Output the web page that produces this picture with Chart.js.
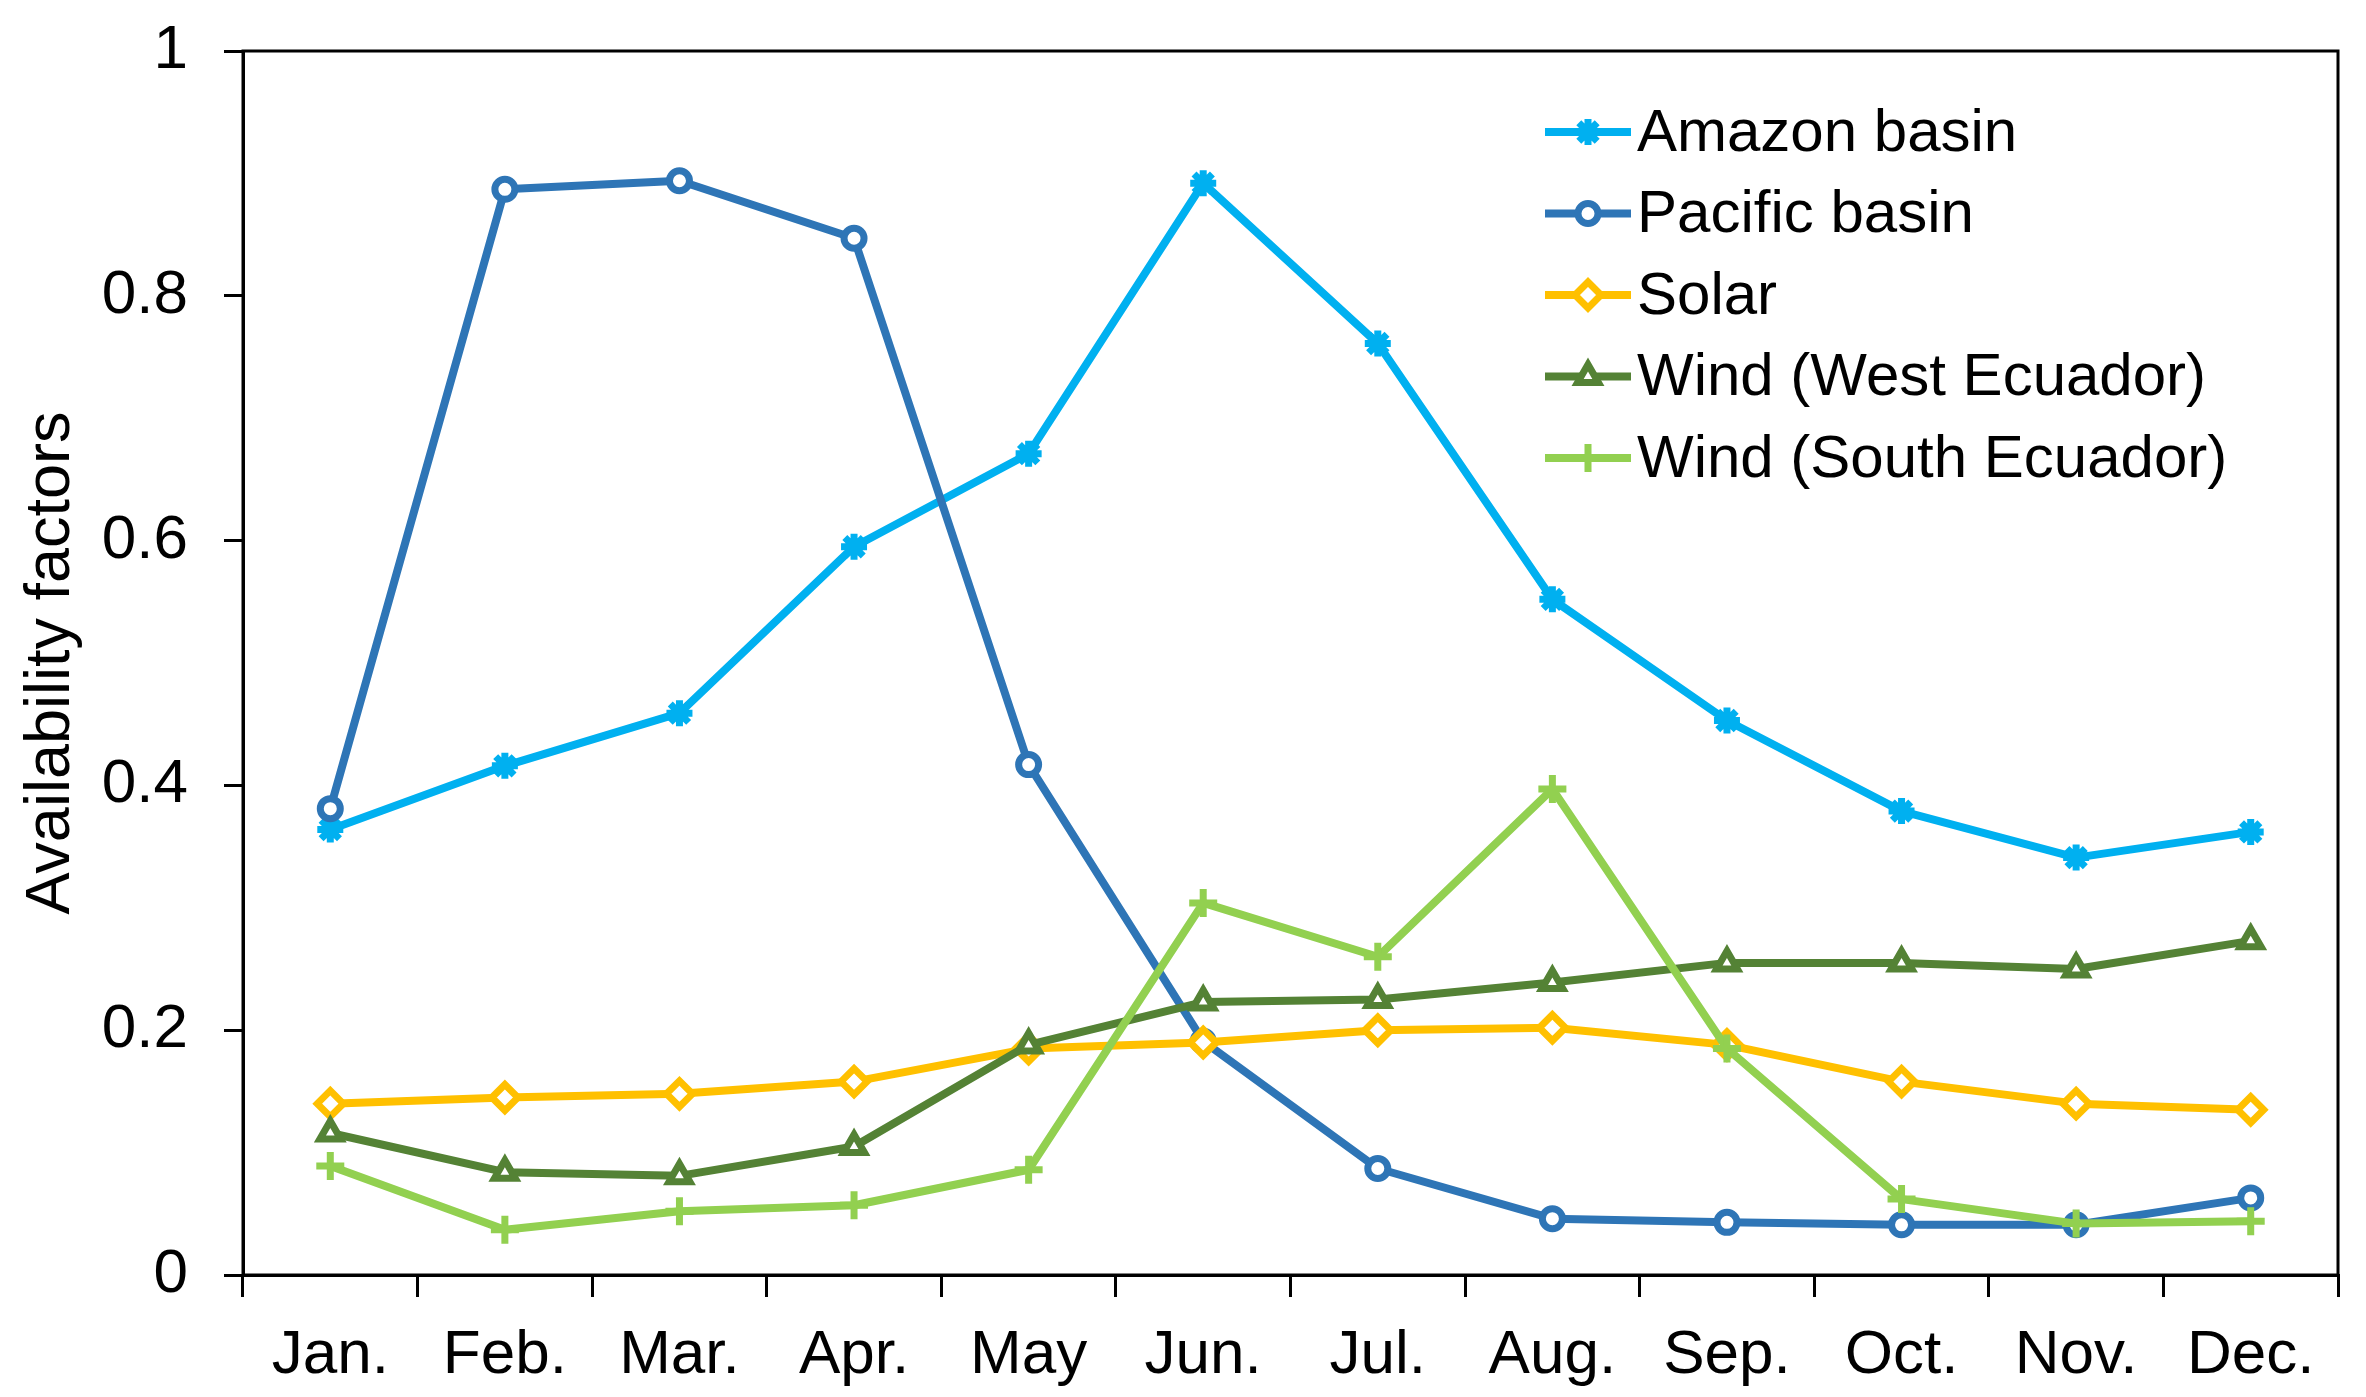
<!DOCTYPE html>
<html>
<head>
    <title>Availability factors</title>
    <script src="https://cdn.jsdelivr.net/npm/chart.js@4"></script>
    <style>
        body { margin: 0; background: #fff; }
        canvas { display: block; }
    </style>
</head>
<body>

<canvas id="grafico" width="2366" height="1397"></canvas>

<script>
    const meses = ['Jan.', 'Feb.', 'Mar.', 'Apr.', 'May', 'Jun.', 'Jul.', 'Aug.', 'Sep.', 'Oct.', 'Nov.', 'Dec.'];
    const yTicks = [0, 0.2, 0.4, 0.6, 0.8, 1];

    const amazon     = [0.364, 0.416, 0.459, 0.595, 0.671, 0.892, 0.761, 0.552, 0.453, 0.379, 0.341, 0.362];
    const pacific    = [0.381, 0.887, 0.894, 0.847, 0.417, 0.191, 0.087, 0.046, 0.043, 0.041, 0.041, 0.063];
    const solar      = [0.140, 0.145, 0.148, 0.158, 0.185, 0.190, 0.200, 0.202, 0.188, 0.158, 0.140, 0.135];
    const windWest   = [0.116, 0.084, 0.081, 0.105, 0.188, 0.223, 0.225, 0.239, 0.255, 0.255, 0.250, 0.273];
    const windSouth  = [0.089, 0.037, 0.052, 0.057, 0.086, 0.304, 0.260, 0.397, 0.185, 0.062, 0.042, 0.044];

    Chart.defaults.font.family = '"Liberation Sans", Arial, sans-serif';
    Chart.defaults.color = '#000';

    // marco negro alrededor del area del grafico
    const marco = {
        id: 'marco',
        beforeDatasetsDraw(chart) {
            const { ctx, chartArea: a } = chart;
            ctx.save();
            ctx.strokeStyle = '#000';
            ctx.lineWidth = 3;
            ctx.strokeRect(a.left, a.top, a.right - a.left, a.bottom - a.top);
            ctx.restore();
        }
    };

    // leyenda dentro del area, estilo Excel (linea + marcador)
    const leyenda = {
        id: 'leyenda',
        afterDatasetsDraw(chart) {
            const ctx = chart.ctx;
            const x0 = 1545, x1 = 1631, top = 132, paso = 81.5;
            chart.data.datasets.forEach((ds, i) => {
                const y = top + i * paso;
                ctx.save();
                ctx.strokeStyle = ds.borderColor;
                ctx.lineWidth = ds.borderWidth;
                ctx.beginPath();
                ctx.moveTo(x0, y);
                ctx.lineTo(x1, y);
                ctx.stroke();
                ctx.fillStyle = ds.pointBackgroundColor;
                ctx.lineWidth = ds.pointBorderWidth;
                Chart.helpers.drawPoint(ctx, {
                    pointStyle: ds.pointStyle,
                    radius: ds.pointRadius,
                    borderWidth: ds.pointBorderWidth,
                    rotation: 0
                }, (x0 + x1) / 2, y);
                ctx.fillStyle = '#000';
                ctx.font = '60px "Liberation Sans", Arial, sans-serif';
                ctx.textBaseline = 'middle';
                ctx.textAlign = 'left';
                ctx.fillText(ds.label, x1 + 6, y + 2);
                ctx.restore();
            });
        }
    };

    function serie(label, data, color, estilo, radio, orden) {
        return {
            label: label,
            data: data,
            borderColor: color,
            backgroundColor: color,
            borderWidth: 8,
            borderJoinStyle: 'round',
            tension: 0,
            pointStyle: estilo,
            pointRadius: radio,
            pointHoverRadius: radio,
            pointBorderWidth: 7,
            pointBorderColor: color,
            pointBackgroundColor: '#fff',
            order: orden
        };
    }

    new Chart(document.getElementById('grafico').getContext('2d'), {
        type: 'line',
        data: {
            labels: meses,
            datasets: [
                serie('Amazon basin', amazon, '#00B0F0', 'star', 13, 5),
                serie('Pacific basin', pacific, '#2E75B6', 'circle', 10, 4),
                serie('Solar', solar, '#FFC000', 'rectRot', 13, 3),
                serie('Wind (West Ecuador)', windWest, '#548235', 'triangle', 12, 2),
                serie('Wind (South Ecuador)', windSouth, '#92D050', 'cross', 14, 1)
            ]
        },
        options: {
            responsive: false,
            devicePixelRatio: 1,
            animation: false,
            layout: { padding: { top: 51, right: 28, left: 0, bottom: 0 } },
            plugins: {
                legend: { display: false },
                tooltip: { enabled: false }
            },
            scales: {
                x: {
                    offset: true,
                    grid: { offset: true, drawOnChartArea: false, tickLength: 22, color: '#000', lineWidth: 3 },
                    border: { color: '#000', width: 3 },
                    ticks: { color: '#000', font: { size: 62 }, padding: 22, maxRotation: 0, autoSkip: false },
                    afterFit: s => { s.height = 122; }
                },
                y: {
                    min: 0,
                    max: 1,
                    afterBuildTicks: s => { s.ticks = yTicks.map(v => ({ value: v })); },
                    ticks: { color: '#000', font: { size: 62 }, padding: 36, callback: v => String(Number(v.toFixed(1))) },
                    grid: { drawOnChartArea: false, tickLength: 19, color: '#000', lineWidth: 3 },
                    border: { color: '#000', width: 3 },
                    title: {
                        display: true,
                        text: 'Availability factors',
                        color: '#000',
                        font: { size: 63 },
                        padding: { top: 14, bottom: 0 }
                    },
                    afterFit: s => {
                        s.width = 243;
                        s.paddingTop = 0;
                        s.paddingBottom = 0;
                    }
                }
            }
        },
        plugins: [marco, leyenda]
    });
</script>

</body>
</html>
